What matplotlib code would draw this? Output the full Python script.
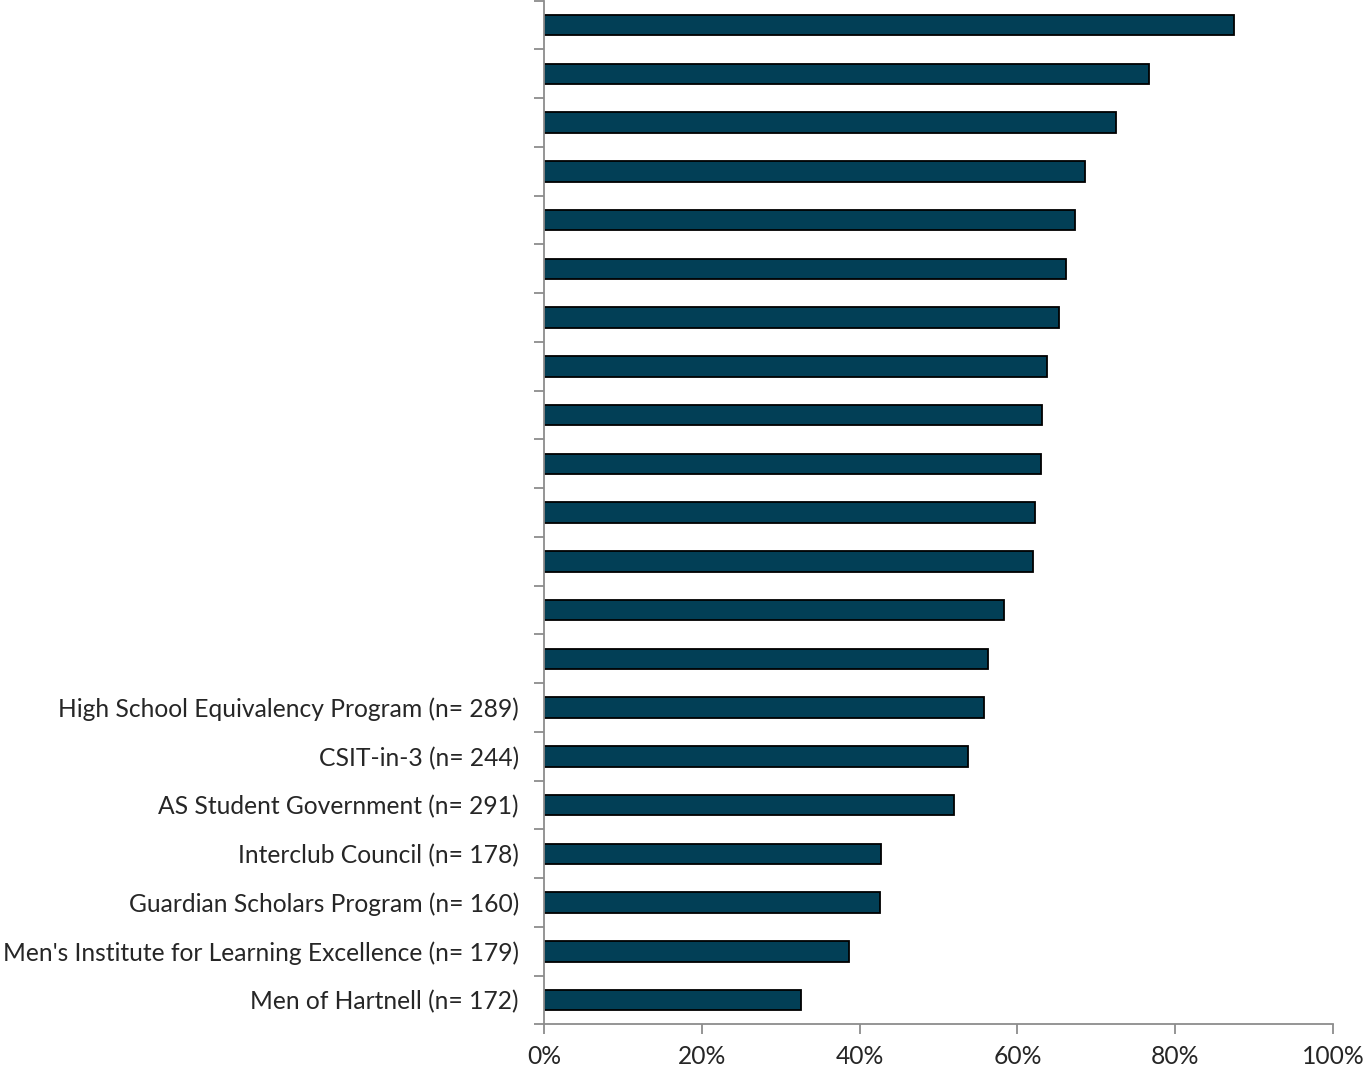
import numpy as np
import matplotlib.pyplot as plt
from matplotlib.ticker import FixedLocator, PercentFormatter

# programs, top to bottom (only the lower ones carry a label)
labels = [""] * 14 + [
    "High School Equivalency Program (n= 289)",
    "CSIT-in-3 (n= 244)",
    "AS Student Government (n= 291)",
    "Interclub Council (n= 178)",
    "Guardian Scholars Program (n= 160)",
    "Men's Institute for Learning Excellence (n= 179)",
    "Men of Hartnell (n= 172)",
]
values = [87.5, 76.7, 72.5, 68.6, 67.3, 66.2, 65.3, 63.8, 63.1, 63.0, 62.2,
          62.0, 58.3, 56.3, 55.8, 53.7, 52.0, 42.7, 42.6, 38.7, 32.6]

plt.rcParams['font.family'] = ['Lato', 'DejaVu Sans']

fig = plt.figure(figsize=(13.65, 10.71), dpi=100)
ax = fig.add_axes([0.3985, 0.0435, 0.5781, 0.9559])

n = len(values)
y = np.arange(n)
ax.barh(y, values, height=0.42, color='#023f56', edgecolor='black', linewidth=1.3)

ax.set_ylim(n - 0.5, -0.5)
ax.set_xlim(0, 100)

ax.set_yticks(y)
ax.set_yticklabels(labels, fontsize=17.7, color='#262626')
ax.tick_params(axis='y', which='major', length=0, pad=18)
ax.yaxis.set_minor_locator(FixedLocator(np.arange(-0.5, n, 1.0)))
ax.tick_params(axis='y', which='minor', length=7, width=1.3, color='#8c8c8c')

ax.set_xticks(np.arange(0, 101, 20))
ax.xaxis.set_major_formatter(PercentFormatter(decimals=0))
ax.tick_params(axis='x', length=7, width=1.3, color='#8c8c8c', labelsize=17.7,
               labelcolor='#262626', pad=8)

for side in ['top', 'right']:
    ax.spines[side].set_visible(False)
for side in ['left', 'bottom']:
    ax.spines[side].set_color('#8c8c8c')
    ax.spines[side].set_linewidth(1.3)

fig.savefig('out.png', dpi=100)
